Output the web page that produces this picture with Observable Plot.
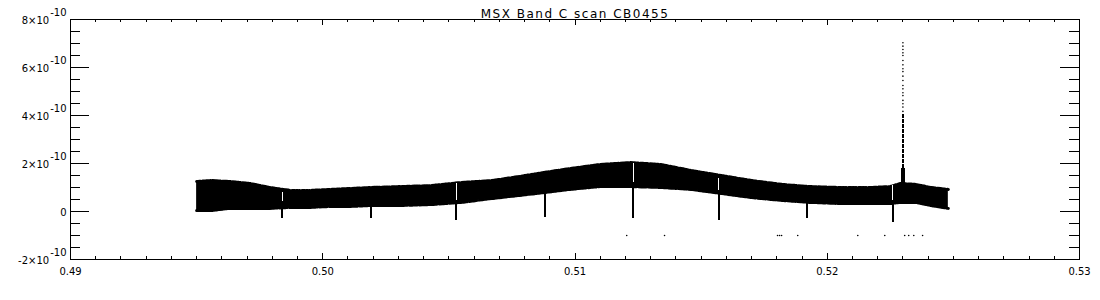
<!DOCTYPE html>
<html>
<head>
<meta charset="utf-8">
<script src="https://cdn.jsdelivr.net/npm/d3@7"></script>
<script src="https://cdn.jsdelivr.net/npm/@observablehq/plot@0.6"></script>
<style>
  html, body { margin: 0; padding: 0; background: #fff; }
  #chart svg { display: block; }
</style>
</head>
<body>
<div id="chart"></div>
<script>
// ---- data (y values in units of 1e-10) ----
const UNIT = 1e-10;
const title = "MSX Band C scan CB0455";

// band envelope
const bandX  = [0.4950, 0.4956, 0.4963, 0.4971, 0.4979, 0.4987, 0.4995, 0.5003, 0.5011, 0.5019,
                0.5031, 0.5043, 0.5055, 0.5067, 0.5078, 0.5088, 0.5098, 0.5110, 0.5122, 0.5134,
                0.5146, 0.5158, 0.5170, 0.5182, 0.5193, 0.5205, 0.5217, 0.5225, 0.5229, 0.5235,
                0.5241, 0.5248];
const bandHi = [1.25, 1.29, 1.25, 1.17, 1.00, 0.88, 0.88, 0.92, 0.96, 1.00,
                1.04, 1.08, 1.21, 1.29, 1.46, 1.63, 1.79, 1.96, 2.04, 1.96,
                1.71, 1.50, 1.29, 1.13, 1.04, 1.00, 1.00, 1.04, 1.17, 1.13,
                1.00, 0.92];
const bandLo = [0.04, 0.04, 0.13, 0.13, 0.13, 0.17, 0.17, 0.21, 0.21, 0.25,
                0.25, 0.29, 0.38, 0.54, 0.67, 0.79, 0.92, 1.04, 1.04, 1.00,
                0.92, 0.75, 0.58, 0.46, 0.38, 0.33, 0.33, 0.33, 0.38, 0.38,
                0.25, 0.13];

// periodic dips below the band (with a white gap above some of them)
const dipX      = [0.4984, 0.5019, 0.5053, 0.5088, 0.5123, 0.5157, 0.5192, 0.5226];
const dipTop    = [0.40, 0.40, 0.46, 0.95, 1.17, 0.85, 0.55, 0.45];
const dipBottom = [-0.29, -0.29, -0.38, -0.25, -0.29, -0.38, -0.29, -0.46];
const gapTop    = [0.79, null, 1.17, null, 2.00, 1.38, null, 1.08];
const gapBottom = [0.40, null, 0.46, null, 1.21, 0.88, null, 0.45];

// the spike near 0.523
const spikeX = 0.5230;
const spikeBase = [0.60, 1.80];
const spikeCore = [1.80, 4.10];
const spikeDots = [7.03, 6.89, 6.75, 6.61, 6.50, 6.29, 6.11, 5.95, 5.83, 5.64, 5.46, 5.25,
                   5.11, 4.95, 4.83, 4.63, 4.49, 4.35, 4.17];

// isolated points below the band
const lowDotX = [0.51205, 0.51355, 0.51803, 0.51811, 0.51819, 0.51883, 0.52121, 0.52228,
                 0.52307, 0.52323, 0.52343, 0.52378];
const lowDotY = -1.0;

// axes
const xMajor = [0.49, 0.50, 0.51, 0.52, 0.53];
const yMajor = [-2, 0, 2, 4, 6, 8];

// ---- layout ----
const W = 1100, H = 300, ML = 70, MR = 21, MT = 19, MB = 41;
const FW = W - ML - MR, FH = H - MT - MB;

const band = bandX.map((x, i) => ({x, lo: bandLo[i] * UNIT, hi: bandHi[i] * UNIT}));
const dips = dipX.map((x, i) => ({x, top: dipTop[i] * UNIT, bottom: dipBottom[i] * UNIT,
  gt: gapTop[i] == null ? null : gapTop[i] * UNIT, gb: gapBottom[i] == null ? null : gapBottom[i] * UNIT}));
const gaps = dips.filter(d => d.gt != null);
const spikeDotData = spikeDots.map(v => ({x: spikeX, y: v * UNIT}));
const lowDots = lowDotX.map(x => ({x, y: lowDotY * UNIT}));

const xMinor = d3.range(0, 41).map(i => +(0.49 + i * 0.001).toFixed(4));
const yMinor = d3.range(0, 21).map(i => (-2 + i * 0.5) * UNIT);
const yMajorV = yMajor.map(v => v * UNIT);

const fmtY = v => {
  const k = Math.round(v / UNIT);
  return k === 0 ? "0" : `${k < 0 ? "-" : ""}${Math.abs(k)}×10|-10`;
};

const plot = Plot.plot({
  width: W, height: H,
  marginLeft: ML, marginRight: MR, marginTop: MT, marginBottom: MB,
  x: {domain: [0.49, 0.53]},
  y: {domain: [-2 * UNIT, 8 * UNIT]},
  style: {fontFamily: "DejaVu Sans, sans-serif", fontSize: "10px", color: "black", background: "white"},
  marks: [
    // band
    Plot.areaY(band, {x: "x", y1: "lo", y2: "hi", fill: "black", curve: "linear"}),
    // ragged fringe of the noisy band (centred on the edges)
    Plot.lineY(band, {x: "x", y: "hi", stroke: "black", strokeWidth: 3, strokeDasharray: "2 1 1 2 3 1"}),
    Plot.lineY(band, {x: "x", y: "lo", stroke: "black", strokeWidth: 3, strokeDasharray: "1 2 3 1 2 1"}),
    // dips
    Plot.ruleX(dips, {x: "x", y1: "top", y2: "bottom", stroke: "black", strokeWidth: 2}),
    Plot.ruleX(gaps, {x: "x", y1: "gt", y2: "gb", stroke: "white", strokeWidth: 1}),
    // spike
    Plot.ruleX([spikeX], {y1: spikeBase[0] * UNIT, y2: spikeBase[1] * UNIT, stroke: "black", strokeWidth: 3.5}),
    Plot.ruleX([spikeX], {y1: spikeCore[0] * UNIT, y2: spikeCore[1] * UNIT, stroke: "black", strokeWidth: 1.2, strokeDasharray: "4 1"}),
    Plot.dot(spikeDotData, {x: "x", y: "y", r: 0.8, fill: "black", stroke: null}),
    Plot.dot(lowDots, {x: "x", y: "y", r: 0.8, fill: "black", stroke: null}),
    // frame
    Plot.frame({stroke: "black", strokeWidth: 1}),
    // y ticks: left and right (inward)
    Plot.ruleY(yMinor, {insetRight: FW - 10, stroke: "black"}),
    Plot.ruleY(yMajorV, {insetRight: FW - 19, stroke: "black"}),
    Plot.ruleY(yMinor, {insetLeft: FW - 10, stroke: "black"}),
    Plot.ruleY(yMajorV, {insetLeft: FW - 19, stroke: "black"}),
    // x ticks: bottom and top (inward)
    Plot.ruleX(xMinor, {insetTop: FH - 3, stroke: "black"}),
    Plot.ruleX(xMajor, {insetTop: FH - 6, stroke: "black"}),
    Plot.ruleX(xMinor, {insetBottom: FH - 3, stroke: "black"}),
    Plot.ruleX(xMajor, {insetBottom: FH - 6, stroke: "black"}),
    // tick labels
    Plot.axisX({anchor: "bottom", ticks: xMajor, tickSize: 0, tickPadding: 8, tickFormat: d3.format(".2f"), fontSize: 10, label: null}),
    Plot.axisY({anchor: "left", ticks: yMajorV, tickSize: 0, tickPadding: 4, tickFormat: fmtY, fontSize: 10, dy: 1, label: null}),
    // title
    Plot.text([title], {frameAnchor: "top", dy: -10, fontSize: 12, fill: "black", text: d => d})
  ]
});

// superscript exponents on y labels
plot.querySelectorAll('g[aria-label="y-axis tick label"] text').forEach(t => {
  const s = t.textContent;
  if (s.includes("|")) {
    const [main, sup] = s.split("|");
    t.textContent = main;
    const ts = document.createElementNS("http://www.w3.org/2000/svg", "tspan");
    ts.setAttribute("dy", "-8");
    ts.setAttribute("dx", "1");
    ts.textContent = sup;
    t.appendChild(ts);
  }
});
plot.querySelectorAll('g[aria-label="rule"], g[aria-label="frame"]').forEach(g => g.setAttribute("shape-rendering", "crispEdges"));
plot.querySelectorAll('g[aria-label="text"] text').forEach(t => t.setAttribute("letter-spacing", "1.5"));

document.getElementById("chart").appendChild(plot);
</script>
</body>
</html>
